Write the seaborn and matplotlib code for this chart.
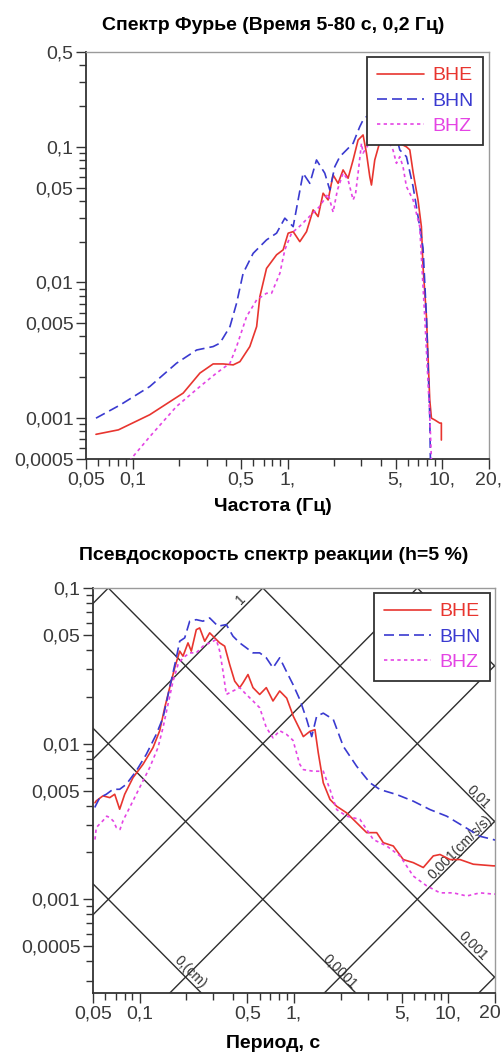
import numpy as np
import pandas as pd
import matplotlib
matplotlib.use('Agg')
import matplotlib.pyplot as plt
import matplotlib.transforms as mtransforms
import seaborn as sns
from matplotlib.ticker import FixedLocator, FixedFormatter, LogLocator, NullFormatter

sns.set_style('ticks')
plt.rcParams['font.family'] = ['Liberation Sans', 'DejaVu Sans']

# ---- Fourier spectrum (frequency, Hz -> amplitude)
four_bhe_f = [0.058, 0.081, 0.129, 0.212, 0.272, 0.331, 0.384, 0.446, 0.493, 0.571, 0.632, 0.663,
              0.732, 0.850, 0.937, 1.01, 1.088, 1.201, 1.327, 1.464, 1.576, 1.698, 1.829, 1.970,
              2.122, 2.285, 2.462, 2.652, 2.856, 3.076, 3.236, 3.398, 3.484, 3.659, 4.2, 4.8,
              5.31, 5.86, 6.16, 6.47, 6.96, 7.32, 7.50, 7.89, 8.29, 8.50, 8.93, 9.61, 9.85, 9.85]
four_bhe_v = [0.00076, 0.00082, 0.00106, 0.00153, 0.00215, 0.00251, 0.00251, 0.00247, 0.00261,
              0.00337, 0.00473, 0.00787, 0.0127, 0.0160, 0.0174, 0.0231, 0.0237, 0.0200, 0.0237,
              0.0343, 0.0306, 0.0455, 0.0406, 0.0620, 0.0538, 0.0676, 0.0587, 0.0800, 0.1123,
              0.1223, 0.0896, 0.0603, 0.0523, 0.0800, 0.14, 0.12, 0.106, 0.100, 0.095, 0.065,
              0.0406, 0.0258, 0.0131, 0.0056, 0.00136, 0.00100, 0.00097, 0.00092, 0.00092, 0.00069]

four_bhn_f = [0.058, 0.083, 0.129, 0.192, 0.259, 0.331, 0.366, 0.425, 0.469, 0.517, 0.600, 0.732,
              0.850, 0.961, 1.088, 1.171, 1.261, 1.394, 1.539, 1.741, 1.876, 2.020, 2.176, 2.404,
              2.652, 2.929, 3.076, 3.236, 4.0, 4.8, 5.31, 5.86, 6.47, 7.14, 7.50, 7.89, 8.29, 8.37]
four_bhn_v = [0.00100, 0.00125, 0.00171, 0.00254, 0.00318, 0.00337, 0.00357, 0.00473, 0.00703,
              0.0117, 0.0164, 0.0206, 0.0231, 0.0298, 0.0258, 0.0406, 0.0639, 0.0538, 0.0800,
              0.0639, 0.0481, 0.0714, 0.0846, 0.0948, 0.1062, 0.1408, 0.1577, 0.1668, 0.20, 0.15,
              0.0948, 0.0846, 0.0509, 0.0258, 0.018, 0.0056, 0.00103, 0.00049]

four_bhz_f = [0.085, 0.099, 0.129, 0.192, 0.272, 0.348, 0.425, 0.469, 0.544, 0.632, 0.732, 0.789,
              0.893, 0.961, 1.062, 1.2, 1.4, 1.6, 1.829, 1.97, 2.1, 2.285, 2.462, 2.652, 2.75,
              2.856, 3.004, 3.076, 3.6, 4.3, 4.80, 5.05, 5.31, 5.57, 5.86, 6.47, 7.14, 7.69, 8.29, 8.50]
four_bhz_v = [0.0004, 0.00051, 0.00073, 0.00122, 0.00171, 0.00215, 0.00254, 0.00337, 0.0056,
              0.00744, 0.00833, 0.00833, 0.0117, 0.0174, 0.0231, 0.026, 0.031, 0.036, 0.045, 0.033,
              0.048, 0.064, 0.057, 0.0406, 0.045, 0.064, 0.106, 0.090, 0.12, 0.12, 0.0948, 0.0756,
              0.0846, 0.0714, 0.0509, 0.0406, 0.0258, 0.0056, 0.00103, 0.00049]

# ---- Pseudo-velocity response spectrum (period, s -> Sv)
psv_bhe_t = [0.0515, 0.0525, 0.0580, 0.0642, 0.0691, 0.0744, 0.0802, 0.0908, 0.1054, 0.1223,
             0.1351, 0.1456, 0.1568, 0.1690, 0.1820, 0.1912, 0.2060, 0.2164, 0.2331, 0.2452,
             0.2642, 0.2846, 0.3067, 0.3304, 0.3559, 0.3835, 0.4132, 0.4451, 0.4676, 0.5037,
             0.5427, 0.5997, 0.6617, 0.7311, 0.8078, 0.8970, 0.9897, 1.149, 1.269, 1.367, 1.436,
             1.547, 1.710, 1.889, 2.193, 2.546, 2.955, 3.430, 3.784, 4.392, 5.097, 5.916, 6.870,
             7.974, 8.810, 10.23, 11.87, 14.47, 19.49, 20.0]
psv_bhe_v = [0.00417, 0.00429, 0.00462, 0.00450, 0.00473, 0.00379, 0.00473, 0.00605, 0.00737,
             0.00943, 0.0121, 0.0170, 0.0229, 0.0307, 0.0393, 0.0365, 0.0444, 0.0393, 0.0540,
             0.0554, 0.0455, 0.0515, 0.0478, 0.0444, 0.0423, 0.0322, 0.0252, 0.0229, 0.0246,
             0.0278, 0.0229, 0.0207, 0.0229, 0.0188, 0.0218, 0.0196, 0.0150, 0.0111, 0.0120,
             0.0123, 0.00872, 0.00560, 0.00438, 0.00396, 0.00359, 0.00310, 0.00268, 0.00268,
             0.00231, 0.00220, 0.00180, 0.00172, 0.00160, 0.00190, 0.00194, 0.00180, 0.00180,
             0.00168, 0.00164, 0.00164]

psv_bhn_t = [0.0513, 0.0553, 0.0610, 0.0674, 0.0744, 0.0821, 0.0953, 0.1107, 0.1285, 0.1420,
             0.1568, 0.1731, 0.1820, 0.1961, 0.2113, 0.2331, 0.2576, 0.2846, 0.3222, 0.3646,
             0.4029, 0.4451, 0.4911, 0.5427, 0.5997, 0.6617, 0.7311, 0.8078, 0.8916, 0.9852,
             1.093, 1.208, 1.302, 1.402, 1.547, 1.796, 2.085, 2.546, 3.104, 3.602, 4.620, 5.916,
             7.592, 9.734, 12.47, 15.99, 19.49, 20.0]
psv_bhn_v = [0.00389, 0.00450, 0.00473, 0.00509, 0.00509, 0.00548, 0.00668, 0.00854, 0.0115,
             0.0147, 0.0229, 0.0356, 0.0455, 0.0478, 0.0612, 0.0626, 0.0612, 0.0642, 0.0568,
             0.0582, 0.0490, 0.0444, 0.0413, 0.0383, 0.0383, 0.0356, 0.0307, 0.0356, 0.0292,
             0.0240, 0.0191, 0.0143, 0.0111, 0.0150, 0.0157, 0.0143, 0.00961, 0.00715, 0.00560,
             0.00507, 0.00471, 0.00427, 0.00377, 0.00342, 0.00295, 0.00254, 0.00242, 0.00240]

psv_bhz_t = [0.0515, 0.0525, 0.0580, 0.0613, 0.0642, 0.0677, 0.0708, 0.0748, 0.0782, 0.0864,
             0.0953, 0.1054, 0.1164, 0.1317, 0.1420, 0.1529, 0.1648, 0.1775, 0.1912, 0.2113,
             0.2331, 0.2576, 0.2846, 0.3141, 0.3304, 0.3470, 0.3646, 0.4029, 0.4451, 0.4911,
             0.5427, 0.5997, 0.6617, 0.7311, 0.8078, 0.8916, 0.9852, 1.089, 1.149, 1.333, 1.547,
             1.710, 1.889, 2.193, 2.674, 3.261, 3.981, 4.854, 5.916, 7.226, 8.810, 10.74, 13.11,
             15.99, 19.49, 20.0]
psv_bhz_v = [0.00242, 0.00289, 0.00320, 0.00342, 0.00335, 0.00318, 0.00289, 0.00281, 0.00320,
             0.00389, 0.00473, 0.00577, 0.00702, 0.00943, 0.0127, 0.0179, 0.0252, 0.0322, 0.0356,
             0.0383, 0.0383, 0.0423, 0.0444, 0.0466, 0.0393, 0.0292, 0.0207, 0.0218, 0.0229,
             0.0207, 0.0188, 0.0170, 0.0127, 0.0109, 0.0121, 0.0115, 0.0105, 0.00737, 0.00681,
             0.00665, 0.00665, 0.00507, 0.00377, 0.00342, 0.00326, 0.00242, 0.00220, 0.00190,
             0.00141, 0.00122, 0.00110, 0.00110, 0.00105, 0.00110, 0.00108, 0.00108]

components = ['BHE', 'BHN', 'BHZ']
colors = {'BHE': '#e8352f', 'BHN': '#3a3ad0', 'BHZ': '#e444e4'}
dashes = {'BHE': (None, None), 'BHN': (6, 3), 'BHZ': (2, 2)}

# tripartite grid: constant displacement (cm) and acceleration (cm/s/s) lines
disp_levels = [1e-5, 1e-4, 1e-3, 1e-2, 1e-1]
acc_levels = [1e-4, 1e-3, 1e-2, 1e-1, 1, 10]

four_df = pd.concat([
    pd.DataFrame({'f': four_bhe_f, 'v': four_bhe_v, 'comp': 'BHE'}),
    pd.DataFrame({'f': four_bhn_f, 'v': four_bhn_v, 'comp': 'BHN'}),
    pd.DataFrame({'f': four_bhz_f, 'v': four_bhz_v, 'comp': 'BHZ'}),
])
psv_df = pd.concat([
    pd.DataFrame({'t': psv_bhe_t, 'v': psv_bhe_v, 'comp': 'BHE'}),
    pd.DataFrame({'t': psv_bhn_t, 'v': psv_bhn_v, 'comp': 'BHN'}),
    pd.DataFrame({'t': psv_bhz_t, 'v': psv_bhz_v, 'comp': 'BHZ'}),
])

W, H = 503, 1061
fig = plt.figure(figsize=(W / 100, H / 100), dpi=100)
ax1 = fig.add_axes([86 / W, 1 - 459 / H, 403 / W, 407 / H])
ax2 = fig.add_axes([93 / W, 1 - 993 / H, 402 / W, 405 / H])

bold_font = dict(family=['Liberation Sans Narrow', 'Liberation Sans', 'DejaVu Sans'],
                 weight='bold', size=14, color='black')


def draw_lines(ax, df, xcol):
    for c in components:
        sub = df[df['comp'] == c]
        sns.lineplot(data=sub, x=xcol, y='v', ax=ax, color=colors[c], sort=False,
                     estimator=None, lw=1.2, label=c, zorder=3)
        line = ax.get_lines()[-1]
        if dashes[c][0] is not None:
            line.set_dashes(dashes[c])


def style_axes(ax, xlim, ylim, xt, xtl, yt, ytl):
    ax.set_xscale('log')
    ax.set_yscale('log')
    ax.set_xlim(*xlim)
    ax.set_ylim(*ylim)
    ax.xaxis.set_major_locator(FixedLocator(xt))
    ax.xaxis.set_major_formatter(FixedFormatter(xtl))
    ax.yaxis.set_major_locator(FixedLocator(yt))
    ax.yaxis.set_major_formatter(FixedFormatter(ytl))
    ax.xaxis.set_minor_locator(LogLocator(base=10, subs=np.arange(2, 10)))
    ax.yaxis.set_minor_locator(LogLocator(base=10, subs=np.arange(2, 10)))
    ax.xaxis.set_minor_formatter(NullFormatter())
    ax.yaxis.set_minor_formatter(NullFormatter())
    ax.tick_params(which='major', length=7, width=1, color='#333333', labelsize=14,
                   labelcolor='#3a3a3a', pad=2)
    ax.tick_params(which='minor', length=5, width=1, color='#333333')
    for s in ['left', 'bottom']:
        ax.spines[s].set_color('#333333')
        ax.spines[s].set_linewidth(1.3)
    for s in ['top', 'right']:
        ax.spines[s].set_visible(True)
        ax.spines[s].set_color('#9a9a9a')
        ax.spines[s].set_linewidth(1.0)
    ax.set_xlabel('')
    ax.set_ylabel('')


def make_legend(ax, anchor):
    leg = ax.legend(loc='upper right', bbox_to_anchor=anchor, bbox_transform=fig.transFigure,
                    borderaxespad=0, frameon=True, fancybox=False, framealpha=1,
                    fontsize=14, handlelength=2.45, handletextpad=0.4, labelspacing=0.4,
                    borderpad=0.5)
    leg.get_frame().set_edgecolor('#333333')
    leg.get_frame().set_linewidth(1.3)
    for txt, c in zip(leg.get_texts(), components):
        txt.set_color(colors[c])
    leg.set_zorder(10)


# ---- top: Fourier spectrum
draw_lines(ax1, four_df, 'f')
style_axes(ax1, (0.05, 20), (0.0005, 0.5),
           [0.05, 0.1, 0.5, 1, 5, 10, 20], ['0,05', '0,1', '0,5', '1,', '5,', '10,', '20,'],
           [0.0005, 0.001, 0.005, 0.01, 0.05, 0.1, 0.5],
           ['0,0005', '0,001', '0,005', '0,01', '0,05', '0,1', '0,5'])
make_legend(ax1, (483 / W, 1 - 57 / H))

# ---- bottom: pseudo-velocity spectrum with tripartite grid
tt = np.array([0.01, 100.0])
for d in disp_levels:
    ax2.plot(tt, 2 * np.pi * d / tt, color='#2e2e2e', lw=1.0, zorder=1)
for a in acc_levels:
    ax2.plot(tt, a * tt / (2 * np.pi), color='#2e2e2e', lw=1.0, zorder=1)
draw_lines(ax2, psv_df, 't')
style_axes(ax2, (0.05, 20), (0.00025, 0.1),
           [0.05, 0.1, 0.5, 1, 5, 10, 20], ['0,05', '0,1', '0,5', '1,', '5,', '10,', '20'],
           [0.0005, 0.001, 0.005, 0.01, 0.05, 0.1],
           ['0,0005', '0,001', '0,005', '0,01', '0,05', '0,1'])
make_legend(ax2, (490 / W, 1 - 593 / H))

# keep the last period label inside the figure
fig.canvas.draw()
last_lbl = ax2.get_xticklabels()[-1]
last_lbl.set_horizontalalignment('right')
last_lbl.set_transform(last_lbl.get_transform() +
                       mtransforms.ScaledTranslation(6 / 100, 0, fig.dpi_scale_trans))

grid_labels = [
    ('1', 0.45, 0.085, 45),
    ('0,01', 15.5, 0.0045, -45),
    ('0,001(cm/s/s)', 11.9, 0.00215, 45),
    ('0,001', 14.5, 0.0005, -45),
    ('0,0001', 1.99, 0.00034, -45),
    ('0,(cm)', 0.212, 0.00034, -45),
]
for txt, x, y, rot in grid_labels:
    ax2.text(x, y, txt, rotation=rot, ha='center', va='center', fontsize=10,
             color='#333333', clip_on=True, zorder=2)

fig.text(273 / W, 1 - 26 / H, 'Спектр Фурье (Время 5-80 с, 0,2 Гц)', ha='center', va='center',
         **bold_font)
fig.text(273 / W, 1 - 506 / H, 'Частота (Гц)', ha='center', va='center', **bold_font)
fig.text(274 / W, 1 - 556 / H, 'Псевдоскорость спектр реакции (h=5 %)', ha='center',
         va='center', **bold_font)
fig.text(273 / W, 1 - 1043 / H, 'Период, с', ha='center', va='center', **bold_font)

fig.savefig('out.png', dpi=100)
